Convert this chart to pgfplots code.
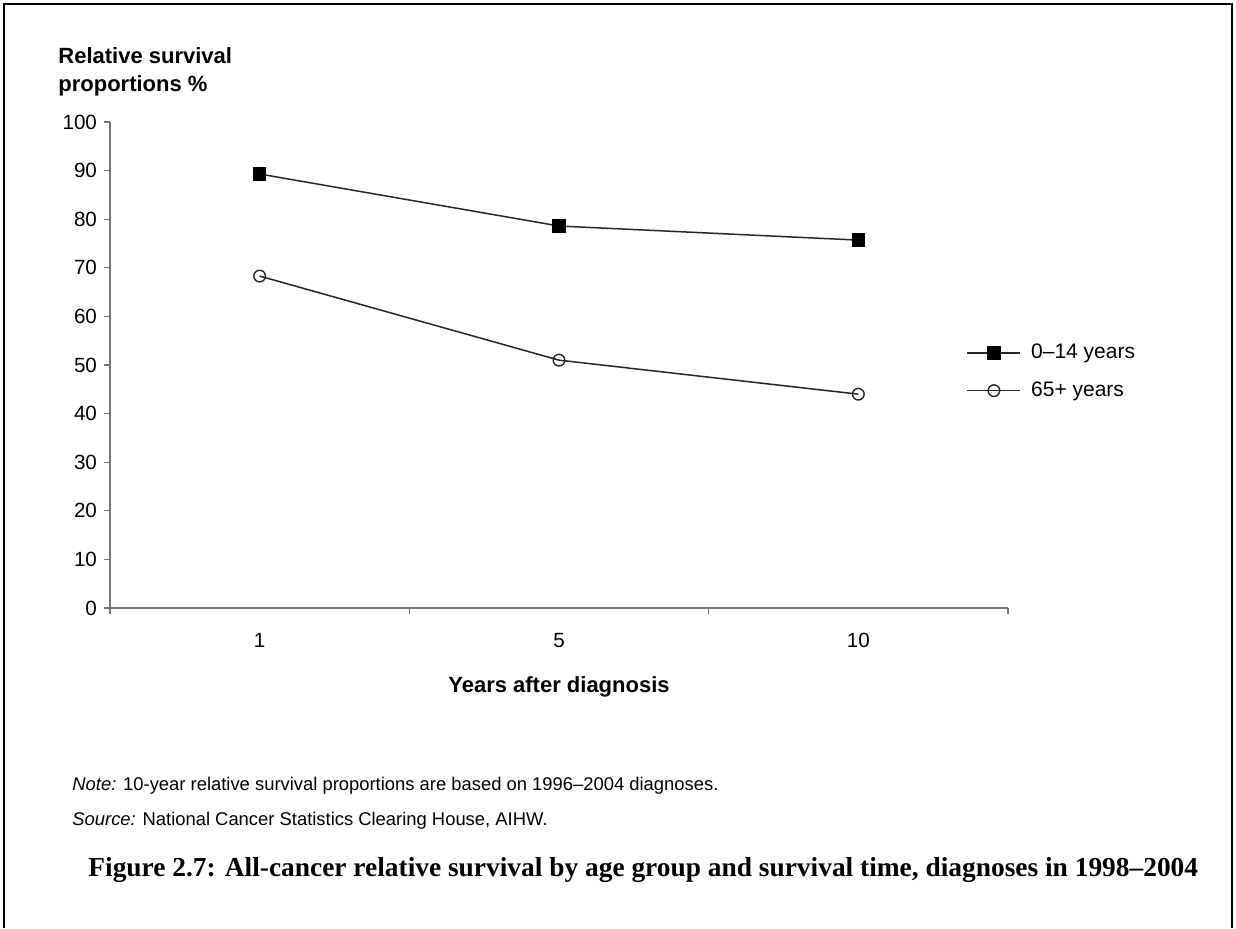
\documentclass[border=0pt]{standalone}
\usepackage{pgfplots}
\pgfplotsset{compat=1.18}
\usepackage{fontspec}
\setmainfont{Liberation Sans}
\newfontfamily\capfont{Liberation Serif}
\begin{document}
\begin{tikzpicture}
\path[use as bounding box] (0pt,0pt) rectangle (618pt,-464pt);
\draw[line width=1pt] (2pt,-464pt) -- (2pt,-2pt) -- (616pt,-2pt) -- (616pt,-464pt);
\begin{axis}[
  at={(55pt,-304pt)}, anchor=south west,
  scale only axis, width=449pt, height=243pt,
  xmin=0.5, xmax=3.5, ymin=0, ymax=100,
  axis x line=bottom, axis y line=left,
  axis line style={-, draw=black!55, line width=0.6pt},
  ytick={0,10,...,100},
  xtick={1,2,3}, xticklabels={1,5,10},
  minor xtick={0.5,1.5,2.5,3.5},
  x tick style={draw=none},
  minor x tick style={draw=black!55, line width=0.6pt},
  y tick style={draw=black!55, line width=0.6pt},
  tick align=outside, major tick length=3pt, minor tick length=3pt,
  /pgf/number format/assume math mode=true,
  tick label style={font=\fontsize{10.3}{12}\selectfont},
  xticklabel style={yshift=-6pt},
  xlabel={\textbf{Years after diagnosis}},
  xlabel style={font=\fontsize{11}{13}\selectfont, at={(axis description cs:0.5,0)}, anchor=center, yshift=-39.5pt},
  clip=false,
  legend style={draw=none, fill=none, at={(rel axis cs:0.954,0.486)}, anchor=west, inner sep=0pt, outer sep=0pt,
    font=\fontsize{10.5}{12}\selectfont, row sep=6pt, column sep=3pt, cells={anchor=west}},
  legend image code/.code={\draw[#1, mark repeat=2, mark phase=2] plot coordinates {(0pt,0pt) (13.25pt,0pt) (26.5pt,0pt)};},
]
\addplot[black!85, line width=0.75pt, mark=square*, mark size=3pt, mark options={fill=black, draw=black}]
  coordinates {(1,89.3) (2,78.6) (3,75.7)};
\addlegendentry{0–14 years}
\addplot[black!85, line width=0.75pt, mark=o, mark size=2.9pt, mark options={fill=white, draw=black!85, line width=0.7pt}]
  coordinates {(1,68.3) (2,51.0) (3,44.0)};
\addlegendentry{65+ years}
\end{axis}
\node[anchor=west, align=left, inner sep=0pt, font=\bfseries\fontsize{11}{14}\selectfont] at (29pt,-36pt) {Relative survival\\proportions \%};
\node[anchor=west, inner sep=0pt, font=\fontsize{9.2}{11}\selectfont] at (36pt,-393pt) {\textit{Note:} 10-year relative survival proportions are based on 1996–2004 diagnoses.};
\node[anchor=west, inner sep=0pt, font=\fontsize{9.2}{11}\selectfont] at (36pt,-410.5pt) {\textit{Source:} National Cancer Statistics Clearing House, AIHW.};
\node[anchor=west, inner sep=0pt, font=\capfont\bfseries\fontsize{13.7}{16}\selectfont] at (44pt,-435pt) {Figure 2.7: All-cancer relative survival by age group and survival time, diagnoses in 1998–2004};
\end{tikzpicture}
\end{document}
